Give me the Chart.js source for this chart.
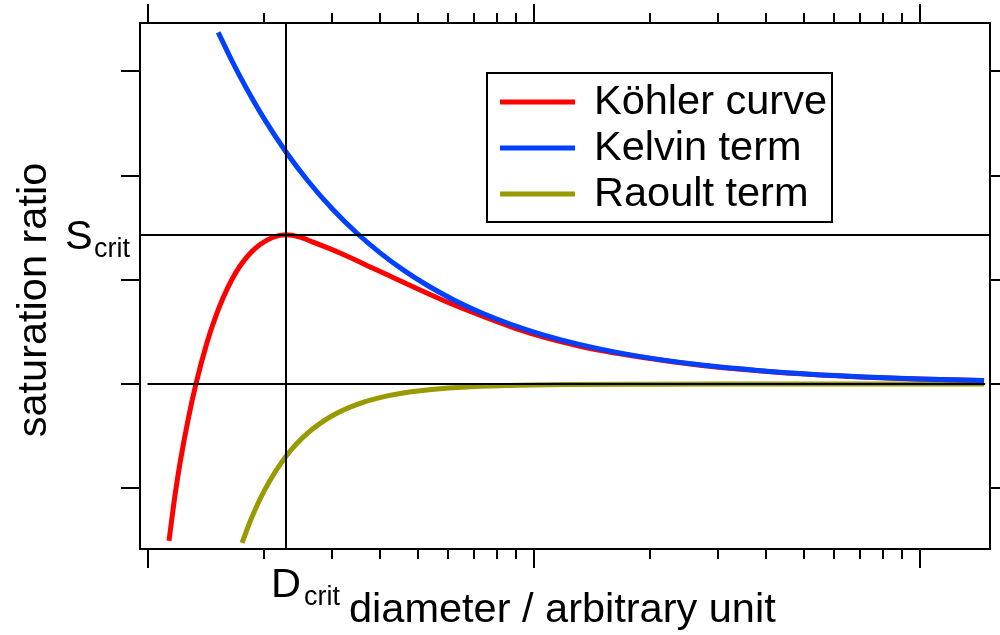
<!DOCTYPE html>
<html>
<head>
<meta charset="utf-8">
<script src="https://cdn.jsdelivr.net/npm/chart.js@4.4.1/dist/chart.umd.min.js"></script>
<style>
body { margin: 0; background: #fff; }
</style>
</head>
<body>
<canvas id="kohlerChart" width="1000" height="635"></canvas>
<script>
// values: diameter (arbitrary unit) and saturation ratio
var kohlerD = [1.1335, 1.1749, 1.2103, 1.2694, 1.3314, 1.4219, 1.4914, 1.5644, 1.6456, 1.7311, 1.8377, 1.9508, 2.1083, 2.2783, 2.4763, 2.676, 3.1445, 3.8275, 4.4966, 5.9534, 7.2462, 9.7643, 13.158, 18.823, 26.918, 43.387, 78.775, 146.48];
var kohlerS = [0.96990, 0.97870, 0.98481, 0.99306, 1.00006, 1.00798, 1.01262, 1.01650, 1.01993, 1.02266, 1.02506, 1.02678, 1.02818, 1.02866, 1.02820, 1.02724, 1.02517, 1.02225, 1.01982, 1.01575, 1.01322, 1.00977, 1.00727, 1.00520, 1.00363, 1.00224, 1.00123, 1.00065];

var kelvinD = [1.52, 1.65, 1.8, 2.0, 2.278, 2.6, 3.0, 3.479, 4.0, 4.6, 5.3, 6.2, 7.3, 8.7, 10.5, 13, 16.5, 21, 28, 38, 52, 72, 100, 146.5];
var kelvinS = [1.06751, 1.06203, 1.05672, 1.05090, 1.04455, 1.03893, 1.03365, 1.02895, 1.02514, 1.02182, 1.01892, 1.01615, 1.01369, 1.01148, 1.00950, 1.00767, 1.00604, 1.00474, 1.00355, 1.00262, 1.00191, 1.00138, 1.00099, 1.00068];

var raoultD = [1.752, 1.85, 2.0, 2.278, 2.6, 3.0, 3.5, 4.2, 5.0, 6.5, 8.5, 12, 20, 40, 146.5];
var raoultS = [0.96951, 0.97410, 0.97950, 0.98613, 0.99067, 0.99393, 0.99617, 0.99779, 0.99869, 0.99940, 0.99973, 0.99991, 0.99998, 1.00000, 1.00000];

var seriesLabels = ['Köhler curve', 'Kelvin term', 'Raoult term'];
var seriesColors = ['#ff0000', '#0040ff', '#999900'];

var xMajorTicks = [1, 10, 100];
var xMinorTicks = [2, 3, 4, 5, 6, 7, 8, 9, 20, 30, 40, 50, 60, 70, 80, 90];
var yTicks = [0.98, 1.00, 1.02, 1.04, 1.06];

var dCrit = 2.2783;
var sCrit = 1.0287;
var sFlat = 1.0;
var flatFrom = 0.997;
var flatTo = 147.5;

var font = '"Liberation Sans", Arial, Helvetica, sans-serif';

function toPoints(xs, ys) {
    var pts = [];
    for (var i = 0; i < xs.length; i++) {
        pts.push({ x: xs[i], y: ys[i] });
    }
    return pts;
}

var decorPlugin = {
    id: 'decor',
    afterDatasetsDraw: function (chart) {
        var ctx = chart.ctx;
        var a = chart.chartArea;
        var sx = chart.scales.x;
        var sy = chart.scales.y;
        ctx.save();
        ctx.strokeStyle = '#000';
        ctx.fillStyle = '#000';
        ctx.lineWidth = 2;

        // reference lines at the critical point and S = 1
        var xc = Math.round(sx.getPixelForValue(dCrit));
        var yc = Math.round(sy.getPixelForValue(sCrit));
        var y1 = Math.round(sy.getPixelForValue(sFlat));
        ctx.beginPath();
        ctx.moveTo(xc, a.top);
        ctx.lineTo(xc, a.bottom);
        ctx.moveTo(a.left, yc);
        ctx.lineTo(a.right, yc);
        ctx.moveTo(sx.getPixelForValue(flatFrom), y1);
        ctx.lineTo(sx.getPixelForValue(flatTo), y1);
        ctx.stroke();

        // frame
        ctx.strokeRect(a.left, a.top, a.right - a.left, a.bottom - a.top);

        // ticks outside the frame
        ctx.beginPath();
        xMajorTicks.forEach(function (v) {
            var p = Math.round(sx.getPixelForValue(v));
            ctx.moveTo(p, a.top); ctx.lineTo(p, a.top - 19);
            ctx.moveTo(p, a.bottom); ctx.lineTo(p, a.bottom + 19);
        });
        xMinorTicks.forEach(function (v) {
            var p = Math.round(sx.getPixelForValue(v));
            ctx.moveTo(p, a.top); ctx.lineTo(p, a.top - 10);
            ctx.moveTo(p, a.bottom); ctx.lineTo(p, a.bottom + 10);
        });
        yTicks.forEach(function (v) {
            var p = Math.round(sy.getPixelForValue(v));
            ctx.moveTo(a.left, p); ctx.lineTo(a.left - 19, p);
            ctx.moveTo(a.right, p); ctx.lineTo(a.right + 19, p);
        });
        ctx.stroke();

        // legend
        ctx.strokeRect(487, 73, 345, 149);
        ctx.font = '41.5px ' + font;
        ctx.textBaseline = 'middle';
        ctx.textAlign = 'left';
        for (var i = 0; i < seriesLabels.length; i++) {
            var ly = 102 + i * 46;
            ctx.save();
            ctx.strokeStyle = seriesColors[i];
            ctx.lineWidth = 5;
            ctx.beginPath();
            ctx.moveTo(500, ly);
            ctx.lineTo(575, ly);
            ctx.stroke();
            ctx.restore();
            ctx.fillText(seriesLabels[i], 594, ly + 1);
        }

        // axis titles
        ctx.textBaseline = 'alphabetic';
        ctx.fillText('diameter / arbitrary unit', 349, 622);
        ctx.save();
        ctx.translate(46, 300);
        ctx.rotate(-Math.PI / 2);
        ctx.textAlign = 'center';
        ctx.fillText('saturation ratio', 0, 0);
        ctx.restore();

        // D_crit and S_crit labels
        ctx.fillText('D', 271, 597);
        ctx.fillText('S', 65, 249);
        ctx.font = '27px ' + font;
        ctx.fillText('crit', 304, 605);
        ctx.fillText('crit', 94, 257);
        ctx.restore();
    }
};

new Chart(document.getElementById('kohlerChart'), {
    type: 'line',
    data: {
        datasets: [
            {
                label: seriesLabels[0],
                data: toPoints(kohlerD, kohlerS),
                borderColor: seriesColors[0],
                order: 1
            },
            {
                label: seriesLabels[1],
                data: toPoints(kelvinD, kelvinS),
                borderColor: seriesColors[1],
                order: 0
            },
            {
                label: seriesLabels[2],
                data: toPoints(raoultD, raoultS),
                borderColor: seriesColors[2],
                order: 2
            }
        ]
    },
    options: {
        responsive: false,
        devicePixelRatio: 1,
        animation: false,
        layout: { padding: { left: 140, top: 23, right: 10, bottom: 86 } },
        elements: {
            point: { radius: 0 },
            line: { cubicInterpolationMode: 'monotone', fill: false, borderWidth: 5 }
        },
        scales: {
            x: { type: 'logarithmic', min: 0.9534, max: 151.8, display: false },
            y: { type: 'linear', min: 0.96835, max: 1.0693, display: false }
        },
        plugins: {
            legend: { display: false },
            tooltip: { enabled: false }
        }
    },
    plugins: [decorPlugin]
});
</script>
</body>
</html>
